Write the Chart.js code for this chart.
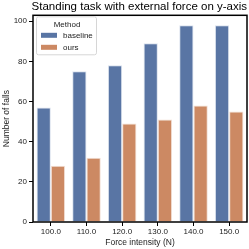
<!DOCTYPE html>
<html>
<head>
<meta charset="utf-8">
<script src="https://cdn.jsdelivr.net/npm/chart.js@4.4.1/dist/chart.umd.min.js"></script>
<style>
  html, body { margin: 0; padding: 0; background: #fff; }
  #wrap { width: 249px; height: 249px; }
</style>
</head>
<body>
<div id="wrap"><canvas id="chart" width="249" height="249"></canvas></div>
<script>
const forces = ["100.0", "110.0", "120.0", "130.0", "140.0", "150.0"];
const baseline = [57, 75, 78, 89, 98, 98];
const ours = [28, 32, 49, 51, 58, 55];
const yTicks = [0, 20, 40, 60, 80, 100];

const FONT = "'Liberation Sans', Arial, sans-serif";

// box around the plot + legend inside top-left
const framePlugin = {
  id: "frame",
  afterDraw(chart) {
    const ctx = chart.ctx;
    const a = chart.chartArea;
    ctx.save();
    ctx.strokeStyle = "#000";
    ctx.lineWidth = 1.5;
    ctx.strokeRect(a.left, a.top, a.right - a.left, a.bottom - a.top);

    // legend
    const x0 = a.left + 3, y0 = a.top + 1;
    const w = 60, h = 38;
    ctx.fillStyle = "rgba(255,255,255,0.8)";
    ctx.strokeStyle = "#d6d6d6";
    ctx.lineWidth = 1;
    ctx.beginPath();
    ctx.roundRect(x0 + 0.5, y0 + 0.5, w, h, 2);
    ctx.fill();
    ctx.stroke();
    ctx.fillStyle = "#222";
    ctx.font = "8px " + FONT;
    ctx.textAlign = "center";
    ctx.textBaseline = "middle";
    ctx.fillText("Method", x0 + w / 2 + 1, y0 + 8);
    ctx.textAlign = "left";
    chart.data.datasets.forEach((ds, i) => {
      const yy = y0 + 19 + i * 12;
      ctx.fillStyle = ds.backgroundColor;
      ctx.fillRect(x0 + 5, yy - 2.5, 16, 5);
      ctx.fillStyle = "#222";
      ctx.fillText(ds.label, x0 + 27, yy);
    });
    ctx.restore();
  }
};

new Chart(document.getElementById("chart"), {
  type: "bar",
  data: {
    labels: forces,
    datasets: [
      { label: "baseline", data: baseline, backgroundColor: "#5975a4", borderColor: "#dbe2ee", borderWidth: 1, borderSkipped: "bottom" },
      { label: "ours", data: ours, backgroundColor: "#cc8963", borderColor: "#f2dfd4", borderWidth: 1, borderSkipped: "bottom" }
    ]
  },
  options: {
    responsive: false,
    animation: false,
    devicePixelRatio: 1,
    layout: { padding: { left: 0, right: 2, top: 0, bottom: 0 } },
    datasets: { bar: { categoryPercentage: 0.8, barPercentage: 1 } },
    plugins: {
      legend: { display: false },
      tooltip: { enabled: false },
      title: {
        display: true,
        align: "end",
        text: "Standing task with external force on y-axis",
        color: "#000",
        font: { family: FONT, size: 11.5, weight: "normal" },
        padding: { top: 0, bottom: 1.5 }
      }
    },
    scales: {
      x: {
        grid: { display: true, drawOnChartArea: false, drawTicks: true, tickLength: 4, color: "#000", offset: false, lineWidth: 1 },
        border: { display: false },
        ticks: { color: "#222", font: { family: FONT, size: 8 }, padding: 1, maxRotation: 0 },
        title: { display: true, text: "Force intensity (N)", color: "#222", font: { family: FONT, size: 8.5 }, padding: { top: 0, bottom: 1 } },
        afterFit(s) { s.height = 27; }
      },
      y: {
        min: 0,
        max: 102.9,
        grid: { display: true, drawOnChartArea: false, drawTicks: true, tickLength: 4, color: "#000", lineWidth: 1 },
        border: { display: false },
        afterBuildTicks(s) { s.ticks = yTicks.map(v => ({ value: v })); },
        ticks: { color: "#222", font: { family: FONT, size: 8 }, padding: 2 },
        title: { display: true, text: "Number of falls", color: "#222", font: { family: FONT, size: 8.5 }, padding: { top: 2, bottom: 2 } },
        afterFit(s) { s.width = 33; }
      }
    }
  },
  plugins: [framePlugin]
});
</script>
</body>
</html>
